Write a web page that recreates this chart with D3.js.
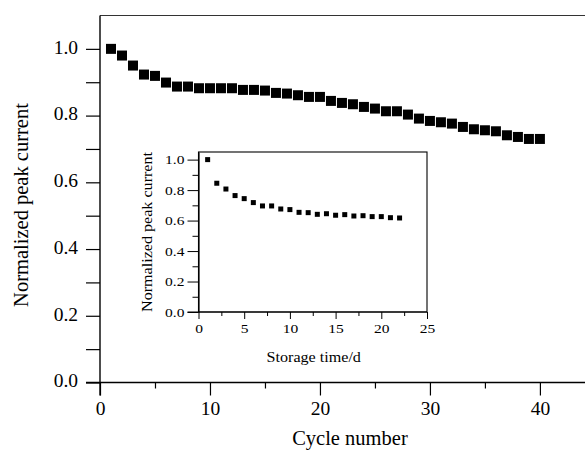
<!DOCTYPE html>
<html>
<head>
<meta charset="utf-8">
<script src="https://cdn.jsdelivr.net/npm/d3@7/dist/d3.min.js"></script>
<style>
  body { margin: 0; background: #fff; }
</style>
</head>
<body>
<div id="chart"></div>
<script>
// main plot: peak current vs cycle number
const cycleNumber = [1,2,3,4,5,6,7,8,9,10,11,12,13,14,15,16,17,18,19,20,
                     21,22,23,24,25,26,27,28,29,30,31,32,33,34,35,36,37,38,39,40]
const peakCurrent = [1.00,0.98,0.95,0.923,0.919,0.899,0.887,0.887,0.882,0.882,
                     0.882,0.882,0.877,0.877,0.875,0.868,0.866,0.861,0.856,0.856,
                     0.844,0.838,0.834,0.826,0.821,0.813,0.813,0.803,0.791,0.784,
                     0.780,0.776,0.766,0.759,0.756,0.753,0.741,0.736,0.730,0.730]

// inset: peak current vs storage time
const storageDay = [1,2,3,4,5,6,7,8,9,10,11,12,13,14,15,16,17,18,19,20,21,22]
const storageCurrent = [1.00,0.845,0.807,0.764,0.744,0.718,0.696,0.696,0.676,0.672,0.654,
                        0.652,0.641,0.645,0.635,0.639,0.630,0.632,0.626,0.626,0.619,0.617]

const mainXTicks = [0,10,20,30,40]
const mainXMinor = [5,15,25,35]
const mainYTicks = [0,0.2,0.4,0.6,0.8,1.0]
const mainYMinor = [0.1,0.3,0.5,0.7,0.9]
const insetXTicks = [0,5,10,15,20,25]
const insetXMinor = [2.5,7.5,12.5,17.5,22.5]
const insetYTicks = [0,0.2,0.4,0.6,0.8,1.0]
const insetYMinor = [0.1,0.3,0.5,0.7,0.9]

const serif = '"Liberation Serif", "Times New Roman", serif'
const width = 585, height = 457

const svg = d3.select('#chart').append('svg')
  .attr('width', width)
  .attr('height', height)

// ---- main plot
const x = d3.scaleLinear().domain([0, 44.1]).range([100, 585])
const y = d3.scaleLinear().domain([0, 1.1]).range([382.5, 15.5])

// top frame line
svg.append('line')
  .attr('x1', x(0)).attr('x2', x.range()[1])
  .attr('y1', y(1.1)).attr('y2', y(1.1))
  .attr('stroke', '#333').attr('stroke-width', 1)

const xAxis = svg.append('g').attr('transform', `translate(0,${y(0)})`)
xAxis.call(d3.axisBottom(x).tickValues(mainXTicks).tickSize(13).tickSizeOuter(0).tickPadding(6).tickFormat(d3.format('d')))
xAxis.append('g').call(d3.axisBottom(x).tickValues(mainXMinor).tickSize(6).tickFormat(''))
  .select('.domain').remove()

const yAxis = svg.append('g').attr('transform', `translate(${x(0)},0)`)
yAxis.call(d3.axisLeft(y).tickValues(mainYTicks).tickSize(14).tickSizeOuter(0).tickPadding(8).tickFormat(d3.format('.1f')))
yAxis.append('g').call(d3.axisLeft(y).tickValues(mainYMinor).tickSize(14).tickFormat(''))
  .select('.domain').remove()

svg.selectAll('.domain').attr('stroke', '#000').attr('stroke-width', 1.4)
svg.selectAll('.tick line').attr('stroke', '#000').attr('stroke-width', 1.2)

xAxis.selectAll('text').style('font-family', serif).style('font-size', '19.5px')
yAxis.selectAll('text').style('font-family', serif).style('font-size', '19.5px').attr('dy', '0.22em')
// extend axis lines past the crossing like the original
xAxis.select('.domain').attr('d', `M${x(0) - 14},0H${x.range()[1]}`)
yAxis.select('.domain').attr('d', `M0,${y(1.1)}V${y(0) + 13}`)

svg.append('text')
  .attr('x', (x(0) + x(40)) / 2 + 30)
  .attr('y', 445)
  .attr('text-anchor', 'middle')
  .style('font-family', serif)
  .style('font-size', '20.5px')
  .text('Cycle number')

svg.append('text')
  .attr('transform', `translate(28,205) rotate(-90)`)
  .attr('text-anchor', 'middle')
  .style('font-family', serif)
  .style('font-size', '20.5px')
  .text('Normalized peak current')

svg.append('g').selectAll('rect')
  .data(cycleNumber)
  .enter().append('rect')
  .attr('x', (d, i) => x(d) - 5)
  .attr('y', (d, i) => y(peakCurrent[i]) - 5)
  .attr('width', 10)
  .attr('height', 10)
  .attr('fill', '#000')

// ---- inset
const ix = d3.scaleLinear().domain([0, 25]).range([198.5, 427])
const iy = d3.scaleLinear().domain([0, 1.05]).range([312, 152])

const inset = svg.append('g')

inset.append('rect')
  .attr('x', ix(0)).attr('y', iy(1.05))
  .attr('width', ix(25) - ix(0)).attr('height', iy(0) - iy(1.05))
  .attr('fill', '#fff').attr('stroke', '#000').attr('stroke-width', 1.1)

const ixAxis = inset.append('g').attr('transform', `translate(0,${iy(0)})`)
ixAxis.call(d3.axisBottom(ix).tickValues(insetXTicks).tickSize(7).tickSizeOuter(0).tickPadding(4).tickFormat(d3.format('d')))
ixAxis.append('g').call(d3.axisBottom(ix).tickValues(insetXMinor).tickSize(4).tickFormat(''))
  .select('.domain').remove()

const iyAxis = inset.append('g').attr('transform', `translate(${ix(0)},0)`)
iyAxis.call(d3.axisLeft(iy).tickValues(insetYTicks).tickSize(11).tickSizeOuter(0).tickPadding(3).tickFormat(d3.format('.1f')))
iyAxis.append('g').call(d3.axisLeft(iy).tickValues(insetYMinor).tickSize(6).tickFormat(''))
  .select('.domain').remove()

inset.selectAll('.domain').attr('stroke', '#000').attr('stroke-width', 1.2)
inset.selectAll('.tick line').attr('stroke', '#000').attr('stroke-width', 1)
ixAxis.select('.domain').attr('d', `M${ix(0) - 11},0H${ix(25)}`)

// inset type looks slightly stretched horizontally
const stretch = function () { return this.getComputedTextLength() * 1.15 }

ixAxis.selectAll('.tick text').style('font-family', serif).style('font-size', '13.5px')
  .attr('textLength', stretch).attr('lengthAdjust', 'spacingAndGlyphs')
iyAxis.selectAll('.tick text').style('font-family', serif).style('font-size', '13.5px').attr('dy', '0.3em')
  .attr('textLength', stretch).attr('lengthAdjust', 'spacingAndGlyphs')

inset.append('text')
  .attr('x', (ix(0) + ix(25)) / 2 + 1)
  .attr('y', 362)
  .attr('text-anchor', 'middle')
  .style('font-family', serif)
  .style('font-size', '14px')
  .text('Storage time/d')
  .attr('textLength', stretch).attr('lengthAdjust', 'spacingAndGlyphs')

inset.append('text')
  .attr('transform', `translate(152,232) rotate(-90)`)
  .attr('text-anchor', 'middle')
  .style('font-family', serif)
  .style('font-size', '14px')
  .text('Normalized peak current')
  .attr('textLength', stretch).attr('lengthAdjust', 'spacingAndGlyphs')

inset.append('g').selectAll('rect')
  .data(storageDay)
  .enter().append('rect')
  .attr('x', d => ix(d) - 2.5)
  .attr('y', (d, i) => iy(storageCurrent[i]) - 2.5)
  .attr('width', 5)
  .attr('height', 5)
  .attr('fill', '#000')
</script>
</body>
</html>
